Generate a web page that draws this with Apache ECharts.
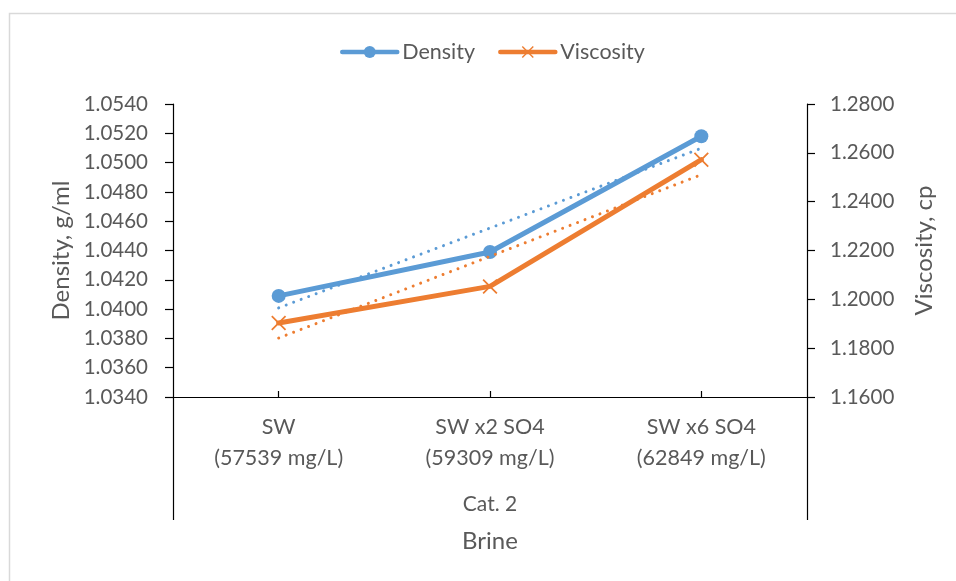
<!DOCTYPE html>
<html>
<head>
<meta charset="utf-8">
<script src="https://cdn.jsdelivr.net/npm/echarts@6/dist/echarts.min.js"></script>
<style>
  html, body { margin: 0; padding: 0; background: #fff; }
  #chart { width: 956px; height: 581px; }
</style>
</head>
<body>
<div id="chart"></div>
<script>
// Brine categories and measured properties
const categories = ['SW\n(57539 mg/L)', 'SW x2 SO4\n(59309 mg/L)', 'SW x6 SO4\n(62849 mg/L)'];
const groupLabels = ['Cat. 2'];
const density = [1.0409, 1.0439, 1.0518];     // g/ml
const viscosity = [1.1903, 1.2053, 1.2572];   // cp

// Least-squares linear trend over the category index, like a spreadsheet trendline
function linearTrend(values) {
  const n = values.length;
  const xs = values.map((_, i) => i + 1);
  const mx = xs.reduce((a, b) => a + b, 0) / n;
  const my = values.reduce((a, b) => a + b, 0) / n;
  let sxy = 0, sxx = 0;
  for (let i = 0; i < n; i++) {
    sxy += (xs[i] - mx) * (values[i] - my);
    sxx += (xs[i] - mx) * (xs[i] - mx);
  }
  const slope = sxy / sxx;
  return xs.map(x => my + slope * (x - mx));
}

const BLUE = '#5B9BD5';
const ORANGE = '#ED7D31';
const TEXT = '#595959';
const FONT = 'Lato';
const X_MARK = 'path://M0,1 L1,0 L6,5 L11,0 L12,1 L7,6 L12,11 L11,12 L6,7 L1,12 L0,11 L5,6 Z';

const chart = echarts.init(document.getElementById('chart'), null, { renderer: 'canvas' });

chart.setOption({
  backgroundColor: '#fff',
  animation: false,
  textStyle: { fontFamily: FONT, color: TEXT },
  graphic: [{
    type: 'rect',
    shape: { x: 9.5, y: 13.5, width: 1000, height: 1000 },
    style: { fill: 'none', stroke: '#D9D9D9', lineWidth: 1.5 },
    silent: true
  }],
  legend: {
    data: ['Density', 'Viscosity'],
    left: 335,
    top: 36,
    itemWidth: 55,
    itemHeight: 15,
    itemGap: 23,
    lineStyle: { width: 4.5 },
    textStyle: { fontFamily: FONT, fontSize: 21.5, color: TEXT }
  },
  grid: { left: 173, right: 149, top: 104, bottom: 184, containLabel: false },
  xAxis: [{
    type: 'category',
    data: categories,
    position: 'bottom',
    boundaryGap: true,
    name: 'Brine',
    nameLocation: 'middle',
    nameGap: 132,
    nameTextStyle: { fontFamily: FONT, fontSize: 24, color: TEXT },
    axisLine: { lineStyle: { color: '#000', width: 1.2 } },
    axisTick: { show: true, inside: true, alignWithLabel: true, length: 6, lineStyle: { color: '#000', width: 1.2 } },
    axisLabel: { margin: 15, fontFamily: FONT, fontSize: 21.5, color: TEXT, lineHeight: 31 },
    splitLine: { show: false }
  }, {
    type: 'category',
    data: groupLabels,
    position: 'bottom',
    boundaryGap: true,
    axisLine: { show: false },
    axisTick: { show: true, inside: false, length: 123, lineStyle: { color: '#000', width: 1.2 } },
    axisLabel: { margin: 97, fontFamily: FONT, fontSize: 21, color: TEXT },
    splitLine: { show: false }
  }],
  yAxis: [{
    type: 'value',
    position: 'left',
    min: 1.034,
    max: 1.054,
    interval: 0.002,
    name: 'Density, g/ml',
    nameLocation: 'middle',
    nameRotate: 90,
    nameGap: 100,
    nameTextStyle: { fontFamily: FONT, fontSize: 24, color: TEXT },
    axisLine: { show: true, lineStyle: { color: '#000', width: 1.2 } },
    axisTick: { show: true, inside: false, length: 8, lineStyle: { color: '#000', width: 1.2 } },
    axisLabel: { margin: 25, fontFamily: FONT, fontSize: 20.5, color: TEXT, formatter: v => v.toFixed(4) },
    splitLine: { show: false }
  }, {
    type: 'value',
    position: 'right',
    min: 1.16,
    max: 1.28,
    interval: 0.02,
    name: 'Viscosity, cp',
    nameLocation: 'middle',
    nameRotate: 90,
    nameGap: 105,
    nameTextStyle: { fontFamily: FONT, fontSize: 24, color: TEXT },
    axisLine: { show: true, lineStyle: { color: '#000', width: 1.2 } },
    axisTick: { show: true, inside: false, length: 8, lineStyle: { color: '#000', width: 1.2 } },
    axisLabel: { margin: 23, fontFamily: FONT, fontSize: 20.5, color: TEXT, formatter: v => v.toFixed(4) },
    splitLine: { show: false }
  }],
  series: [{
    name: 'Density',
    type: 'line',
    xAxisIndex: 0,
    yAxisIndex: 0,
    data: density,
    symbol: 'circle',
    symbolSize: 14,
    color: BLUE,
    itemStyle: { color: BLUE },
    lineStyle: { color: BLUE, width: 5, cap: 'round', join: 'round' },
    z: 2
  }, {
    name: 'Viscosity',
    type: 'line',
    xAxisIndex: 0,
    yAxisIndex: 1,
    data: viscosity,
    symbol: X_MARK,
    symbolSize: 15,
    color: ORANGE,
    itemStyle: { color: ORANGE },
    lineStyle: { color: ORANGE, width: 5, cap: 'round', join: 'round' },
    z: 3
  }, {
    name: 'Density trend',
    type: 'line',
    xAxisIndex: 0,
    yAxisIndex: 0,
    data: linearTrend(density),
    symbol: 'none',
    lineStyle: { color: BLUE, width: 3, type: [0.01, 8], cap: 'round' },
    z: 4
  }, {
    name: 'Viscosity trend',
    type: 'line',
    xAxisIndex: 0,
    yAxisIndex: 1,
    data: linearTrend(viscosity),
    symbol: 'none',
    lineStyle: { color: ORANGE, width: 3, type: [0.01, 8], cap: 'round' },
    z: 5
  }]
});
</script>
</body>
</html>
